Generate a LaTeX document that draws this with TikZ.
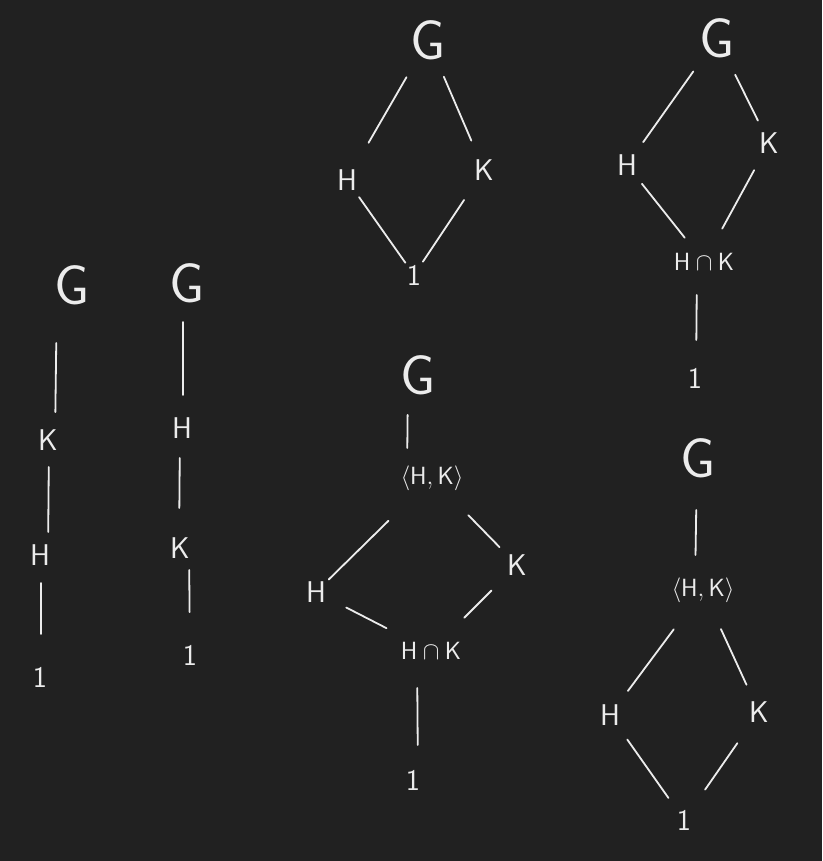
\documentclass[tikz,border=0pt]{standalone}
\usepackage{amsmath}
\definecolor{bg}{HTML}{212121}
\definecolor{ink}{HTML}{ECECEC}
\newcommand{\conn}[4]{\draw[link,shorten <=#3pt,shorten >=#4pt] (#1.center) -- (#2.center);}
\newcommand{\connx}[6]{\draw[link,shorten <=#5pt,shorten >=#6pt] ([xshift=#2pt]#1.center) -- ([xshift=#4pt]#3.center);}
\begin{document}
\begin{tikzpicture}[x=1pt,y=-1pt,
  lab/.style={text=ink,inner sep=0pt,font=\sffamily\fontsize{30}{32}\selectfont},
  big/.style={text=ink,inner sep=0pt,font=\sffamily\fontsize{56}{58}\selectfont},
  one/.style={text=ink,inner sep=0pt,font=\sffamily\fontsize{30}{32}\selectfont},
  link/.style={draw=ink,line width=1.8pt,line cap=round}]
\fill[bg] (0,0) rectangle (822,861);
\useasboundingbox (0,0) rectangle (822,861);
% chain 1
\node[big] (G1) at (72,285) {G};
\node[lab] (K1) at (48,440) {K};
\node[lab] (H1) at (40,555) {H};
\node[one] (O1) at (40,677) {1};
\connx{G1}{-15}{K1}{7}{58}{28}
\connx{K1}{1}{H1}{8}{27}{23}
\connx{H1}{1}{O1}{1}{28}{43}
% chain 2
\node[big] (G2) at (187,283) {G};
\node[lab] (H2) at (182,428) {H};
\node[lab] (K2) at (180,548) {K};
\node[one] (O2) at (190,655) {1};
\connx{G2}{-4}{H2}{1}{39}{33}
\connx{H2}{-2}{K2}{-1}{30}{40}
\connx{K2}{9}{O2}{0}{22}{43}
% diagram 3 top
\node[big] (G3) at (428,40) {G};
\node[lab] (H3) at (347,180) {H};
\node[lab] (K3) at (484,170) {K};
\node[one] (O3) at (414,275) {1};
\conn{G3}{H3}{43}{43}
\conn{G3}{K3}{40}{32}
\conn{H3}{O3}{21}{15}
\conn{K3}{O3}{36}{16}
% diagram 3 bottom
\node[big] (G4) at (418,375) {G};
\node[lab] (J4) at (432,478) {$\langle\mathsf{H},\mathsf{K}\rangle$};
\node[lab] (H4) at (316,592) {H};
\node[lab] (K4) at (517,565) {K};
\node[lab] (I4) at (431,651) {$\mathsf{H}\cap\mathsf{K}$};
\node[one] (O4) at (413,780) {1};
\connx{G4}{-10}{J4}{-25}{40}{30}
\conn{J4}{H4}{61}{18}
\conn{J4}{K4}{52}{25}
\conn{H4}{I4}{34}{50}
\conn{K4}{I4}{36}{47}
\connx{I4}{-14}{O4}{5}{37}{35}
% diagram 4 top
\node[big] (G5) at (717,38) {G};
\node[lab] (H5) at (627,165) {H};
\node[lab] (K5) at (769,143) {K};
\node[lab] (I5) at (704,262) {$\mathsf{H}\cap\mathsf{K}$};
\node[one] (O5) at (695,378) {1};
\conn{G5}{H5}{41}{28}
\conn{G5}{K5}{41}{25}
\conn{H5}{I5}{24}{31}
\conn{K5}{I5}{31}{38}
\connx{I5}{-7}{O5}{1}{33}{38}
% diagram 4 bottom
\node[big] (G6) at (698,458) {G};
\node[lab] (J6) at (703,590) {$\langle\mathsf{H},\mathsf{K}\rangle$};
\node[lab] (H6) at (610,715) {H};
\node[lab] (K6) at (759,712) {K};
\node[one] (O6) at (684,820) {1};
\connx{G6}{-1}{J6}{-8}{52}{35}
\conn{J6}{H6}{49}{30}
\conn{J6}{K6}{43}{30}
\conn{H6}{O6}{30}{27}
\conn{K6}{O6}{38}{37}
\end{tikzpicture}
\end{document}
